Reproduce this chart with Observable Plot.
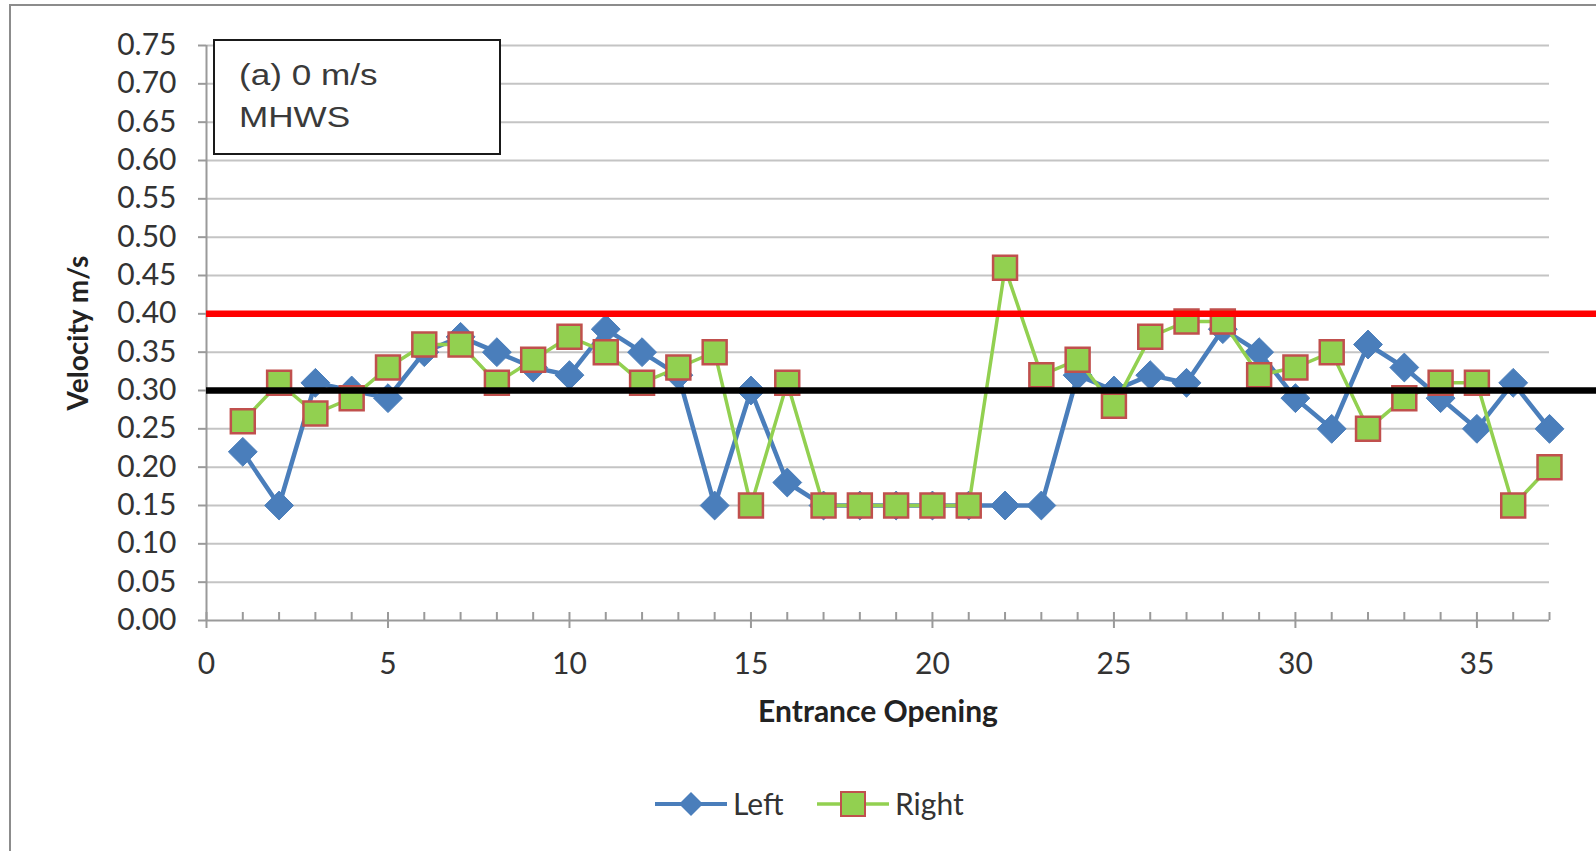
<!DOCTYPE html>
<html>
<head>
<meta charset="utf-8">
<script src="https://cdn.jsdelivr.net/npm/d3@7"></script>
<script src="https://cdn.jsdelivr.net/npm/@observablehq/plot@0.6"></script>
<style>
  body { margin: 0; background: #fff; }
  #wrap { position: relative; width: 1596px; height: 851px; overflow: hidden; background: #fff; }
  #frame { position: absolute; left: 9px; top: 4px; width: 1700px; height: 900px; border: 2px solid #8c8c8c; box-sizing: border-box; }
  #chart { position: absolute; left: 0; top: 0; }
  #note { position: absolute; left: 213px; top: 39px; width: 288px; height: 116px; border: 2px solid #1a1a1a; background: #fff; box-sizing: border-box;
          font-family: "Liberation Sans", Arial, sans-serif; font-size: 30px; line-height: 42px; color: #3a3a3a; padding: 13px 0 0 24px; }
  #note span { display: inline-block; transform: scaleX(1.17); transform-origin: left center; }
  .leg { position: absolute; top: 789px; height: 30px; }
  .legtxt { position: absolute; top: 784px; font-family: Lato, "Open Sans", sans-serif; font-size: 30px; color: #333; line-height: 38px; }
</style>
</head>
<body>
<div id="wrap">
  <div id="frame"></div>
  <div id="chart"></div>
  <div id="note"></div>
  <div id="legend"></div>
</div>
<script>
// ---- data ----
const openings = [1,2,3,4,5,6,7,8,9,10,11,12,13,14,15,16,17,18,19,20,21,22,23,24,25,26,27,28,29,30,31,32,33,34,35,36,37];
const leftVelocity = [0.22,0.15,0.31,0.30,0.29,0.35,0.37,0.35,0.33,0.32,0.38,0.35,0.32,0.15,0.30,0.18,0.15,0.15,0.15,0.15,0.15,0.15,0.15,0.32,0.30,0.32,0.31,0.38,0.35,0.29,0.25,0.36,0.33,0.29,0.25,0.31,0.25];
const rightVelocity = [0.26,0.31,0.27,0.29,0.33,0.36,0.36,0.31,0.34,0.37,0.35,0.31,0.33,0.35,0.15,0.31,0.15,0.15,0.15,0.15,0.15,0.46,0.32,0.34,0.28,0.37,0.39,0.39,0.32,0.33,0.35,0.25,0.29,0.31,0.31,0.15,0.20];
const seriesNames = ["Left", "Right"];
const thresholdValues = [0.40, 0.30];
const thresholdColors = ["#ff0000", "#000000"];
const xTickValues = [0,5,10,15,20,25,30,35];
const minorTickValues = [0,1,2,3,4,5,6,7,8,9,10,11,12,13,14,15,16,17,18,19,20,21,22,23,24,25,26,27,28,29,30,31,32,33,34,35,36,37];
const yTickValues = [0,0.05,0.10,0.15,0.20,0.25,0.30,0.35,0.40,0.45,0.50,0.55,0.60,0.65,0.70,0.75];
const xTitle = "Entrance Opening";
const yTitle = "Velocity m/s";
const noteLines = ["(a) 0 m/s", "MHWS"];

const blue = "#4a7ebb", green = "#92d050", squareEdge = "#c0504d", grid = "#c4c4c4", axisGrey = "#9a9a9a";

const leftData = openings.map((o, i) => ({opening: o, velocity: leftVelocity[i]}));
const rightData = openings.map((o, i) => ({opening: o, velocity: rightVelocity[i]}));
const thresholds = thresholdValues.map((v, i) => ({v, color: thresholdColors[i]}));

const plot = Plot.plot({
  width: 1596,
  height: 745,
  marginLeft: 206,
  marginRight: 47,
  marginTop: 45,
  marginBottom: 125,
  x: {domain: [0, 37]},
  y: {domain: [0, 0.75]},
  style: {fontFamily: "Lato, 'Open Sans', sans-serif", fontSize: "30px", color: "#333", background: "transparent"},
  marks: [
    Plot.ruleY(yTickValues.filter(d => d > 0), {stroke: grid, strokeWidth: 2}),
    Plot.ruleY([0], {stroke: axisGrey, strokeWidth: 2}),
    Plot.ruleX([0], {stroke: axisGrey, strokeWidth: 2}),
    Plot.ruleX(minorTickValues, {x: d => d, y1: () => 0, y2: () => 0, insetTop: -8, stroke: axisGrey, strokeWidth: 2}),
    Plot.axisY(yTickValues, {tickFormat: d => d.toFixed(2), tickSize: 8, tickPadding: 22, stroke: axisGrey, strokeWidth: 2, fill: "#333", label: null}),
    Plot.axisX(xTickValues, {tickFormat: d => String(d), tickSize: 8, tickPadding: 24, stroke: axisGrey, strokeWidth: 2, fill: "#333", label: null}),
    Plot.text([yTitle], {frameAnchor: "left", dx: -127, rotate: -90, textAnchor: "middle", lineAnchor: "middle", fontWeight: "bold", fontSize: 28, fill: "#222"}),
    Plot.text([xTitle], {frameAnchor: "bottom", dy: 92, textAnchor: "middle", lineAnchor: "middle", fontWeight: "bold", fontSize: 30, fill: "#222"}),
    Plot.line(leftData, {x: "opening", y: "velocity", stroke: blue, strokeWidth: 4.5}),
    Plot.dot(leftData, {x: "opening", y: "velocity", symbol: "diamond2", r: 13, fill: blue, stroke: blue, strokeWidth: 1}),
    Plot.line(rightData, {x: "opening", y: "velocity", stroke: green, strokeWidth: 3.5}),
    Plot.dot(rightData, {x: "opening", y: "velocity", symbol: "square", r: 13.5, fill: green, stroke: squareEdge, strokeWidth: 2.5}),
    Plot.ruleY(thresholds, {y: "v", stroke: "color", strokeWidth: 6.5, insetRight: -60})
  ]
});
document.getElementById("chart").appendChild(plot);

// annotation box
document.getElementById("note").innerHTML = noteLines.map(s => `<span>${s}</span>`).join("<br>");

// legend
const legend = document.getElementById("legend");
const legendItems = [
  {name: seriesNames[0], color: blue, x: 655, marker: `<path d="M36,3 L48,15 L36,27 L24,15 Z" fill="${blue}"/>`, lw: 4},
  {name: seriesNames[1], color: green, x: 817, marker: `<rect x="24" y="3" width="24" height="24" fill="${green}" stroke="${squareEdge}" stroke-width="2"/>`, lw: 3.5}
];
legendItems.forEach(it => {
  const sw = document.createElement("div");
  sw.className = "leg";
  sw.style.left = it.x + "px";
  sw.innerHTML = `<svg width="72" height="30"><line x1="0" y1="15" x2="72" y2="15" stroke="${it.color}" stroke-width="${it.lw}"/>${it.marker}</svg>`;
  legend.appendChild(sw);
  const t = document.createElement("div");
  t.className = "legtxt";
  t.style.left = (it.x + 78) + "px";
  t.textContent = it.name;
  legend.appendChild(t);
});
</script>
</body>
</html>
